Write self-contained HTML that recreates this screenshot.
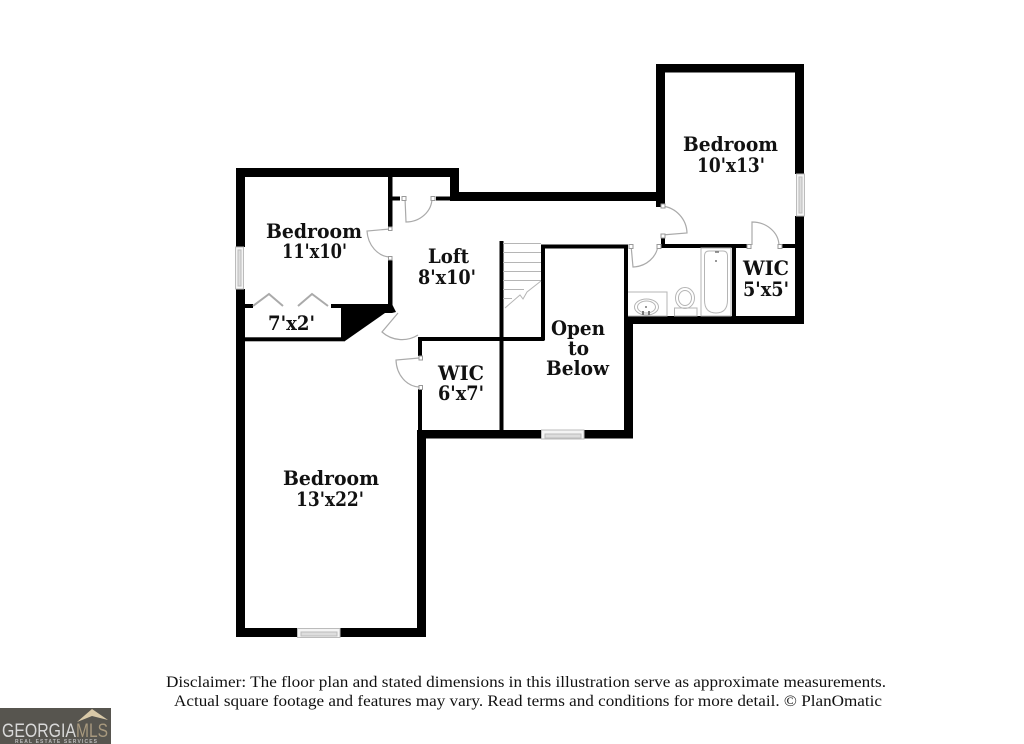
<!DOCTYPE html>
<html><head><meta charset="utf-8"><style>
html,body{margin:0;padding:0;background:#fff}
svg{display:block}
.r{font-family:"DejaVu Serif","Liberation Serif",serif;font-weight:bold;font-size:20px;fill:#111}
.d{font-family:"Liberation Serif",serif;font-size:16px;fill:#111}
</style></head><body>
<svg width="1024" height="744" viewBox="0 0 1024 744" xmlns="http://www.w3.org/2000/svg">
<rect width="1024" height="744" fill="#fff"/>
<g fill="#000">
<!-- thick outer walls -->
<rect x="236" y="168" width="223" height="9"/>
<rect x="236" y="168" width="9" height="79"/>
<rect x="236" y="289" width="9" height="348"/>
<rect x="450" y="168" width="9" height="33"/>
<rect x="450" y="192" width="215" height="9"/>
<rect x="656" y="64" width="9" height="143"/>
<rect x="656" y="64" width="148" height="8.500"/>
<rect x="795" y="64" width="9" height="110"/>
<rect x="795" y="216" width="9" height="108"/>
<rect x="624" y="316" width="180" height="8"/>
<rect x="624" y="316" width="9" height="122"/>
<rect x="417" y="430" width="125" height="8.500"/>
<rect x="584" y="430" width="49" height="8.500"/>
<rect x="417" y="430" width="9" height="207"/>
<rect x="236" y="628" width="62" height="9"/>
<rect x="340" y="628" width="86" height="9"/>
<!-- thin walls -->
<rect x="388" y="177" width="4.500" height="50"/>
<rect x="388" y="260" width="4.500" height="45"/>
<rect x="392" y="196.500" width="8" height="4"/>
<rect x="436" y="196.500" width="16" height="4"/>
<rect x="245" y="304" width="8" height="4"/>
<rect x="331" y="304" width="60" height="4"/>
<rect x="245" y="337.300" width="100" height="4"/>
<rect x="341" y="304" width="4" height="37"/>
<polygon points="341,304 392,304 396,312 392,313 385,313 345,341 341,341"/>
<rect x="418" y="337" width="126" height="4"/>
<rect x="418" y="337" width="4" height="19"/>
<rect x="418" y="389" width="4" height="42"/>
<rect x="499.500" y="241" width="4" height="190"/>
<rect x="541" y="244.500" width="4" height="96"/>
<rect x="541" y="244.500" width="87" height="4"/>
<rect x="624" y="244.500" width="4" height="72"/>
<rect x="661" y="238" width="4" height="10"/>
<rect x="661" y="244" width="86" height="4"/>
<rect x="782" y="244" width="14" height="4"/>
<rect x="732" y="244" width="4" height="72"/>
</g>
<!-- windows -->
<g fill="#f4f4f4" stroke="#bbb" stroke-width="1">
<rect x="235.500" y="247" width="8" height="42"/><rect x="238" y="250" width="3" height="36" fill="#ddd"/>
<rect x="796.500" y="174" width="8" height="42"/><rect x="799" y="177" width="3" height="36" fill="#ddd"/>
<rect x="297.500" y="628.500" width="42.500" height="9"/><rect x="301" y="632" width="36" height="4" fill="#ddd"/>
<rect x="541.500" y="430" width="42.500" height="9"/><rect x="545" y="434" width="36" height="4" fill="#ddd"/>
</g>
<!-- doors -->
<g fill="none" stroke="#aaa" stroke-width="1.200">
<path d="M405,198 L406,222 A26,24 0 0 0 432,198"/>
<path d="M390,229 L367,231 A24,28 0 0 0 390,257"/>
<path d="M398,313 L382,332 A30,30 0 0 0 418,335"/>
<path d="M419,358 L396,360 A24,28 0 0 0 419,387"/>
<path d="M662,206 A28,28 0 0 1 687,233 L662,235"/>
<path d="M631,245 L633,267 A26,24 0 0 0 658,245"/>
<path d="M752,245 L752,222 A27,24 0 0 1 779,245"/>
<path d="M253,306 L269,294 L283,306 M298,306 L312,294 L328,306" stroke-width="2"/>
</g>
<g fill="#fff" stroke="#999" stroke-width="1">
<rect x="402" y="196.500" width="4" height="4"/><rect x="431" y="196.500" width="4" height="4"/>
<rect x="388.500" y="227" width="3.500" height="3.500"/><rect x="388.500" y="256.500" width="3.500" height="3.500"/>
<rect x="419" y="356" width="3.500" height="4"/><rect x="419" y="385.500" width="3.500" height="4"/>
<rect x="661" y="204" width="4" height="4"/><rect x="661" y="234" width="4" height="4"/>
<rect x="629" y="244.500" width="4" height="4"/><rect x="657" y="244.500" width="4" height="4"/>
<rect x="747" y="244.500" width="4" height="4"/><rect x="778" y="244.500" width="4" height="4"/>
</g>
<!-- stairs -->
<g fill="none" stroke="#b5b5b5" stroke-width="1">
<path d="M503,243.500H541 M503,252.500H541 M503,262.500H541 M503,271.500H541 M503,280.500H541 M503,289.500H524 M503,298.500H512"/>
<path d="M505,308 L520,295 L523,299 L527,292 L541,281"/>
</g>
<!-- bath -->
<g fill="none" stroke="#b5b5b5" stroke-width="1">
<rect x="701" y="248" width="30" height="68"/>
<path d="M704.500,256 Q704.500,251 709,251 H723 Q727.500,251 727.500,256 V300 Q727.500,313 716,313 Q704.500,313 704.500,300 Z"/>
<path d="M628,292 H667 V316 H628"/>
<ellipse cx="646.500" cy="307" rx="12" ry="8"/>
<ellipse cx="646.500" cy="307" rx="9" ry="6"/>
<ellipse cx="685" cy="298" rx="9.500" ry="10.500"/>
<ellipse cx="685" cy="298" rx="6.500" ry="7.500"/>
<rect x="674.500" y="308" width="22.500" height="8"/>
</g>
<g fill="#777"><circle cx="716" cy="252" r="1"/><circle cx="718" cy="252" r="1"/><circle cx="716" cy="261" r="1"/><circle cx="646" cy="307" r="1"/><rect x="642" y="311" width="2" height="4"/><rect x="648" y="311" width="2" height="4"/></g>
<!-- room labels -->
<g class="r">
<text x="683" y="151" textLength="95" lengthAdjust="spacingAndGlyphs">Bedroom</text>
<text x="697" y="172" textLength="68" lengthAdjust="spacingAndGlyphs">10'x13'</text>
<text x="266" y="238" textLength="96" lengthAdjust="spacingAndGlyphs">Bedroom</text>
<text x="282" y="258" textLength="65" lengthAdjust="spacingAndGlyphs">11'x10'</text>
<text x="428" y="263" textLength="41" lengthAdjust="spacingAndGlyphs">Loft</text>
<text x="418" y="284" textLength="58" lengthAdjust="spacingAndGlyphs">8'x10'</text>
<text x="268" y="330" textLength="47" lengthAdjust="spacingAndGlyphs">7'x2'</text>
<text x="743" y="275" textLength="46" lengthAdjust="spacingAndGlyphs">WIC</text>
<text x="743" y="296" textLength="46" lengthAdjust="spacingAndGlyphs">5'x5'</text>
<text x="551" y="335" textLength="54" lengthAdjust="spacingAndGlyphs">Open</text>
<text x="568" y="355" textLength="21" lengthAdjust="spacingAndGlyphs">to</text>
<text x="546" y="375" textLength="63" lengthAdjust="spacingAndGlyphs">Below</text>
<text x="438" y="380" textLength="46" lengthAdjust="spacingAndGlyphs">WIC</text>
<text x="438" y="400" textLength="46" lengthAdjust="spacingAndGlyphs">6'x7'</text>
<text x="283" y="485" textLength="96" lengthAdjust="spacingAndGlyphs">Bedroom</text>
<text x="296" y="506" textLength="68" lengthAdjust="spacingAndGlyphs">13'x22'</text>
</g>
<!-- disclaimer -->
<g class="d">
<text x="166" y="687" textLength="720" lengthAdjust="spacingAndGlyphs">Disclaimer: The floor plan and stated dimensions in this illustration serve as approximate measurements.</text>
<text x="174" y="706" textLength="708" lengthAdjust="spacingAndGlyphs">Actual square footage and features may vary. Read terms and conditions for more detail. © PlanOmatic</text>
</g>
<!-- logo -->
<rect x="0" y="708" width="111" height="36" fill="#57554f"/>
<polygon points="77,722 92,709 108,720 92,716" fill="#d9c9a8"/>
<text x="2" y="737" font-family="Liberation Sans,sans-serif" font-size="19" fill="#d8d8d8" textLength="74" lengthAdjust="spacingAndGlyphs">GEORGIA</text>
<text x="76" y="737" font-family="Liberation Sans,sans-serif" font-size="19" fill="#a8997e" textLength="32" lengthAdjust="spacingAndGlyphs">MLS</text>
<text x="15" y="743" font-family="Liberation Sans,sans-serif" font-size="5" font-weight="bold" fill="#bbb" textLength="82" lengthAdjust="spacing">REAL ESTATE SERVICES</text>
</svg>
</body></html>
